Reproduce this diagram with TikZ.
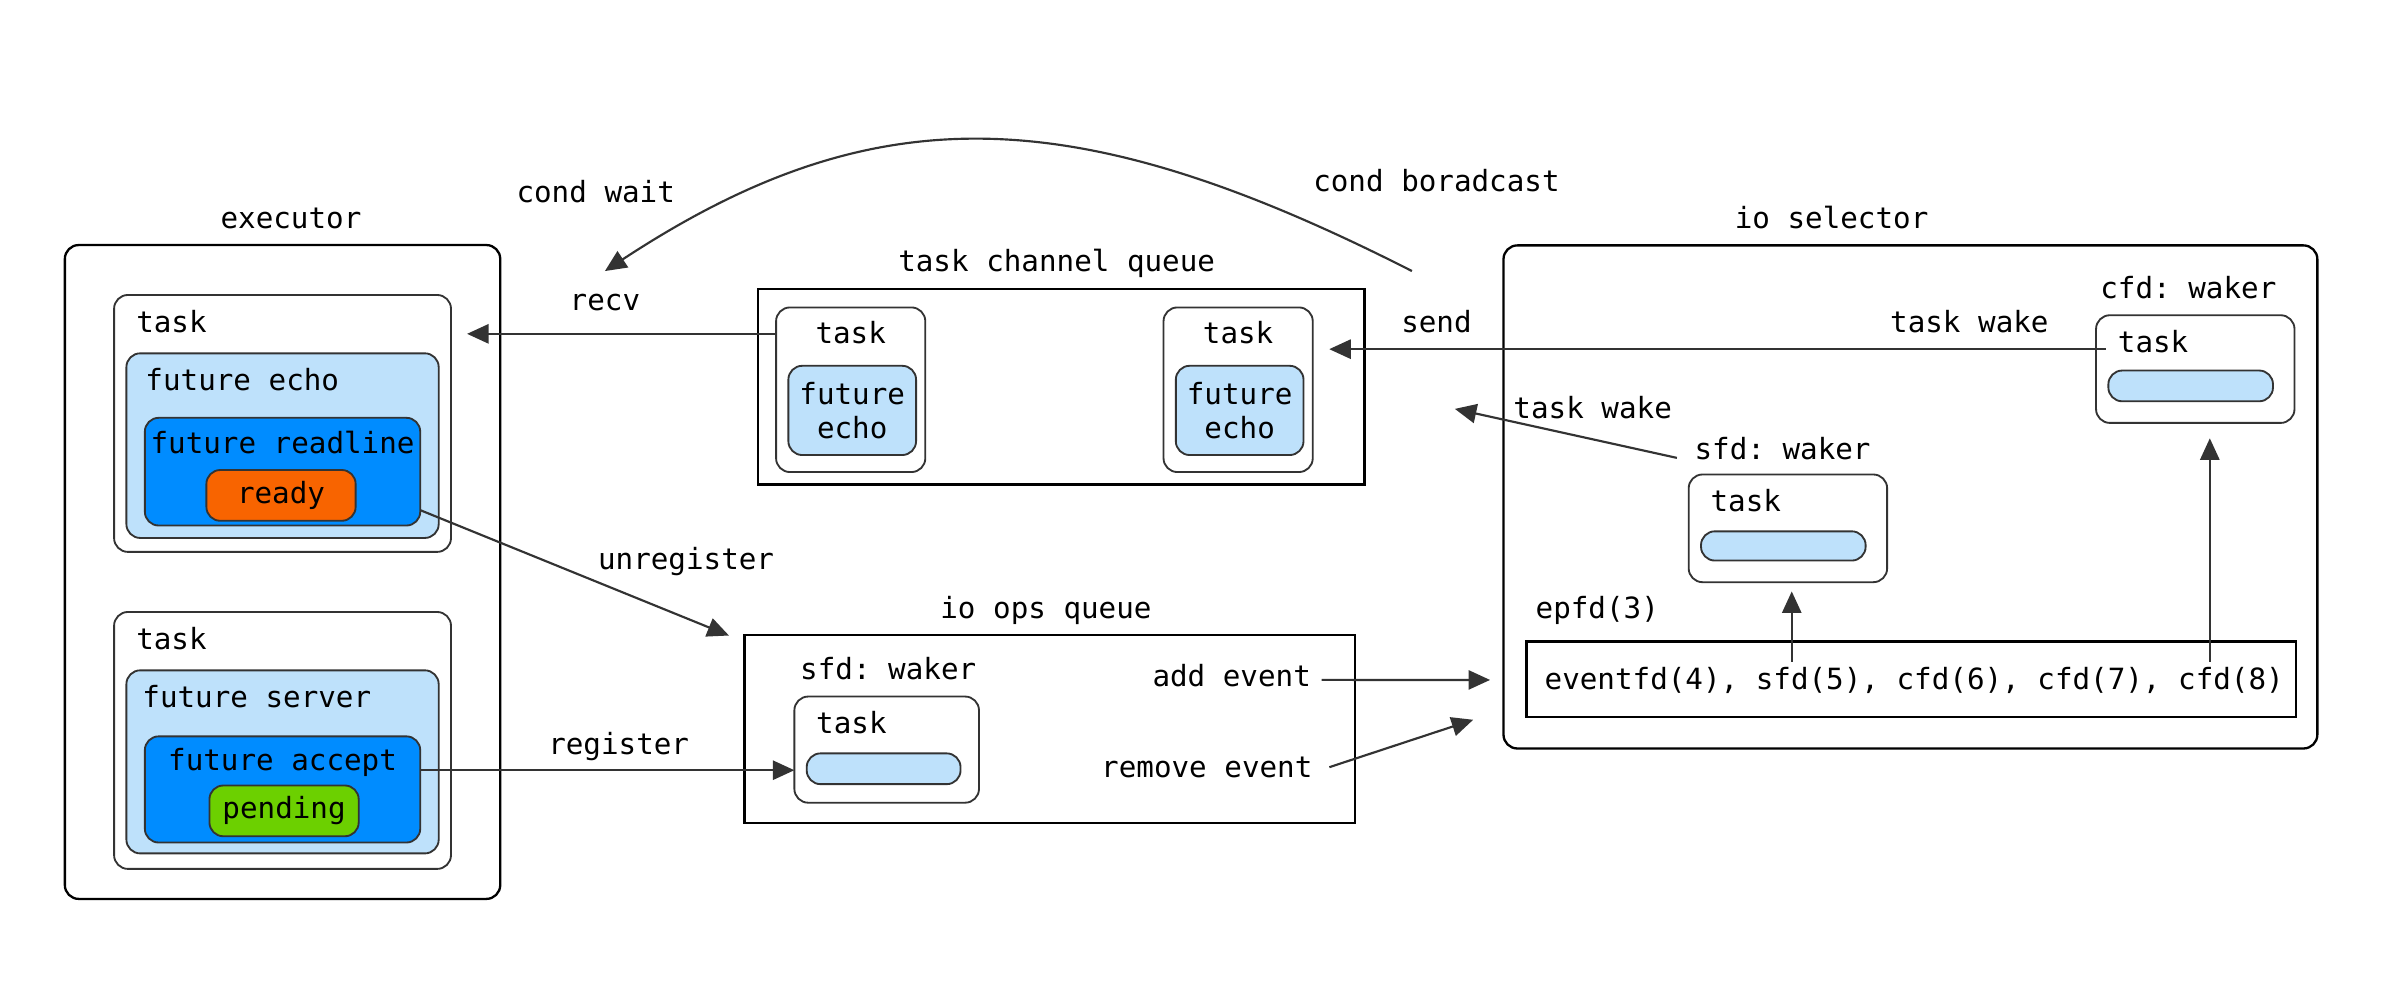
\documentclass[tikz,border=0pt]{standalone}
\usepackage{fontspec}
\setmonofont{DejaVu Sans Mono}
\usetikzlibrary{arrows.meta}
\definecolor{lblue}{RGB}{190,225,251}
\definecolor{mblue}{RGB}{0,140,255}
\definecolor{orng}{RGB}{248,100,0}
\definecolor{grn}{RGB}{108,208,0}
\definecolor{dgray}{RGB}{51,51,51}
\begin{document}
\begin{tikzpicture}[x=0.9954pt,y=-0.9954pt,
  every node/.style={font=\fontsize{19}{22}\selectfont\ttfamily, inner sep=0pt, outer sep=0pt},
  outerbox/.style={draw=black, line width=1.5pt, rounded corners=9pt},
  sqbox/.style={draw=black, line width=1.5pt},
  taskbox/.style={draw=dgray, line width=1.2pt, fill=white, rounded corners=9pt},
  futbox/.style={draw=dgray, line width=1.2pt, fill=lblue, rounded corners=9pt},
  blubox/.style={draw=dgray, line width=1.2pt, fill=mblue, rounded corners=9pt},
  pill/.style={draw=dgray, line width=1.2pt, fill=lblue, rounded corners=9pt},
  lbl/.style={anchor=base},
  arr/.style={draw=dgray, line width=1.4pt, -{Triangle[length=14pt,width=12.5pt]}},
]
\useasboundingbox (0,0) rectangle (1567.2,653.0);

% ---------- executor ----------
\node[lbl] (exlbl) at (190,149) {executor};
\node[outerbox, minimum width=283, minimum height=425] (ex) at (184.5,373.5) {};
\node[taskbox, minimum width=219, minimum height=167] (t1) at (184.5,276.5) {};
\node[lbl, anchor=base west] (t1lbl) at (89,217) {task};
\node[futbox, minimum width=203, minimum height=120] (fe1) at (184.5,291) {};
\node[lbl, anchor=base west] (fe1lbl) at (95,255) {future echo};
\node[blubox, minimum width=179, minimum height=70] (fr) at (184.5,308) {};
\node[lbl] (frlbl) at (184.5,296) {future readline};
\node[blubox, fill=orng, minimum width=97, minimum height=33, text height=14pt, text depth=4pt] (ready) at (183.5,323.5) {ready};

\node[taskbox, minimum width=219, minimum height=167] (t2) at (184.5,483.5) {};
\node[lbl, anchor=base west] (t2lbl) at (89,424) {task};
\node[futbox, minimum width=203, minimum height=119] (fs) at (184.5,497.5) {};
\node[lbl, anchor=base west] (fslbl) at (93,462) {future server};
\node[blubox, minimum width=179, minimum height=69] (fa) at (184.5,515.5) {};
\node[lbl] (falbl) at (184.5,503) {future accept};
\node[blubox, fill=grn, minimum width=97, minimum height=33, text height=14pt, text depth=4pt] (pend) at (185.5,529.5) {pending};

% ---------- task channel queue ----------
\node[lbl] (tcqlbl) at (690,177) {task channel queue};
\node[sqbox, minimum width=394, minimum height=127] (tcq) at (693,252.5) {};
\node[taskbox, minimum width=97, minimum height=107] (tq1) at (555.5,254.5) {};
\node[lbl] (tq1lbl) at (555.5,224) {task};
\node[futbox, minimum width=83, minimum height=58, align=center] (tqf1) at (556.5,268) {future\\echo};
\node[taskbox, minimum width=97, minimum height=107] (tq2) at (808.5,254.5) {};
\node[lbl] (tq2lbl) at (808.5,224) {task};
\node[futbox, minimum width=83, minimum height=58, align=center] (tqf2) at (809.5,268) {future\\echo};

% ---------- io ops queue ----------
\node[lbl] (ioqlbl) at (683,404) {io ops queue};
\node[sqbox, minimum width=397, minimum height=122] (ioq) at (685.5,476) {};
\node[lbl] (iowlbl) at (580,444) {sfd: waker};
\node[taskbox, minimum width=120, minimum height=69] (iot) at (579,489.5) {};
\node[lbl, anchor=base west] (iotlbl) at (533,479) {task};
\node[pill, minimum width=100, minimum height=20] (iop) at (577,502) {};
\node[lbl, anchor=base east] (addlbl) at (856,448) {add event};
\node[lbl, anchor=base east] (remlbl) at (857,508) {remove event};

% ---------- io selector ----------
\node[lbl] (ioslbl) at (1196,149) {io selector};
\node[outerbox, minimum width=529, minimum height=327] (ios) at (1247.5,324.5) {};
\node[lbl] (cwlbl) at (1429,195) {cfd: waker};
\node[taskbox, minimum width=129, minimum height=70] (ct) at (1433.5,241) {};
\node[lbl, anchor=base west] (ctlbl) at (1383,230) {task};
\node[pill, minimum width=107, minimum height=20] (cp) at (1430.5,252) {};
\node[lbl] (swlbl) at (1164,300) {sfd: waker};
\node[taskbox, minimum width=129, minimum height=70] (st) at (1167.5,345) {};
\node[lbl, anchor=base west] (stlbl) at (1117,334) {task};
\node[pill, minimum width=107, minimum height=19] (sp) at (1164.5,356.5) {};
\node[lbl] (eplbl) at (1043,404) {epfd(3)};
\node[sqbox, minimum width=500, minimum height=49] (ep) at (1248,443.5) {};
\node[lbl] (eptxt) at (1250,450) {eventfd(4), sfd(5), cfd(6), cfd(7), cfd(8)};

% ---------- connector labels ----------
\node[lbl] (recvlbl) at (395,203) {recv};
\node[lbl] (sendlbl) at (938,217) {send};
\node[lbl] (tw1lbl) at (1286,217) {task wake};
\node[lbl] (tw2lbl) at (1040,273) {task wake};
\node[lbl] (cwaitlbl) at (389,132) {cond wait};
\node[lbl] (cbclbl) at (938,125) {cond boradcast};
\node[lbl] (unreglbl) at (448,372) {unregister};
\node[lbl] (reglbl) at (404,493) {register};

% ---------- connector end points ----------
\coordinate (recvE) at (305,218);
\coordinate (sendS) at (1375,228);
\coordinate (sendE) at (868,228);
\coordinate (unS) at ([yshift=-25pt]fr.east);
\coordinate (unE) at (476,415);
\coordinate (regS) at ([yshift=12.5pt]fa.east);
\coordinate (addS) at ([xshift=7pt,yshift=4pt]addlbl.base east);
\coordinate (addE) at (973,444);
\coordinate (remS) at ([xshift=11pt,yshift=7pt]remlbl.base east);
\coordinate (remE) at (962,470);
\coordinate (twS) at (1095,299);
\coordinate (twE) at (950,267);
\coordinate (e5) at (1170,432);
\coordinate (e5E) at ([yshift=-6pt]st.south);
\coordinate (e8) at (1443,432);
\coordinate (e8E) at ([yshift=-10pt]ct.south);
\coordinate (cbS) at (922,177);
\coordinate (cwE) at (395,177);

% ---------- connectors ----------
\draw[arr] (tq1.west |- recvE) -- (recvE);
\draw[arr] (sendS) -- (sendE);
\draw[arr] (unS) -- (unE);
\draw[arr] (regS) -- (iot.west |- regS);
\draw[arr] (addS) -- (addE);
\draw[arr] (remS) -- (remE);
\draw[arr] (twS) -- (twE);
\draw[arr] (e5) -- (e5 |- e5E);
\draw[arr] (e8) -- (e8 |- e8E);
\draw[arr] (cbS) .. controls (700,64) and (570,62) .. (cwE);
\end{tikzpicture}
\end{document}
